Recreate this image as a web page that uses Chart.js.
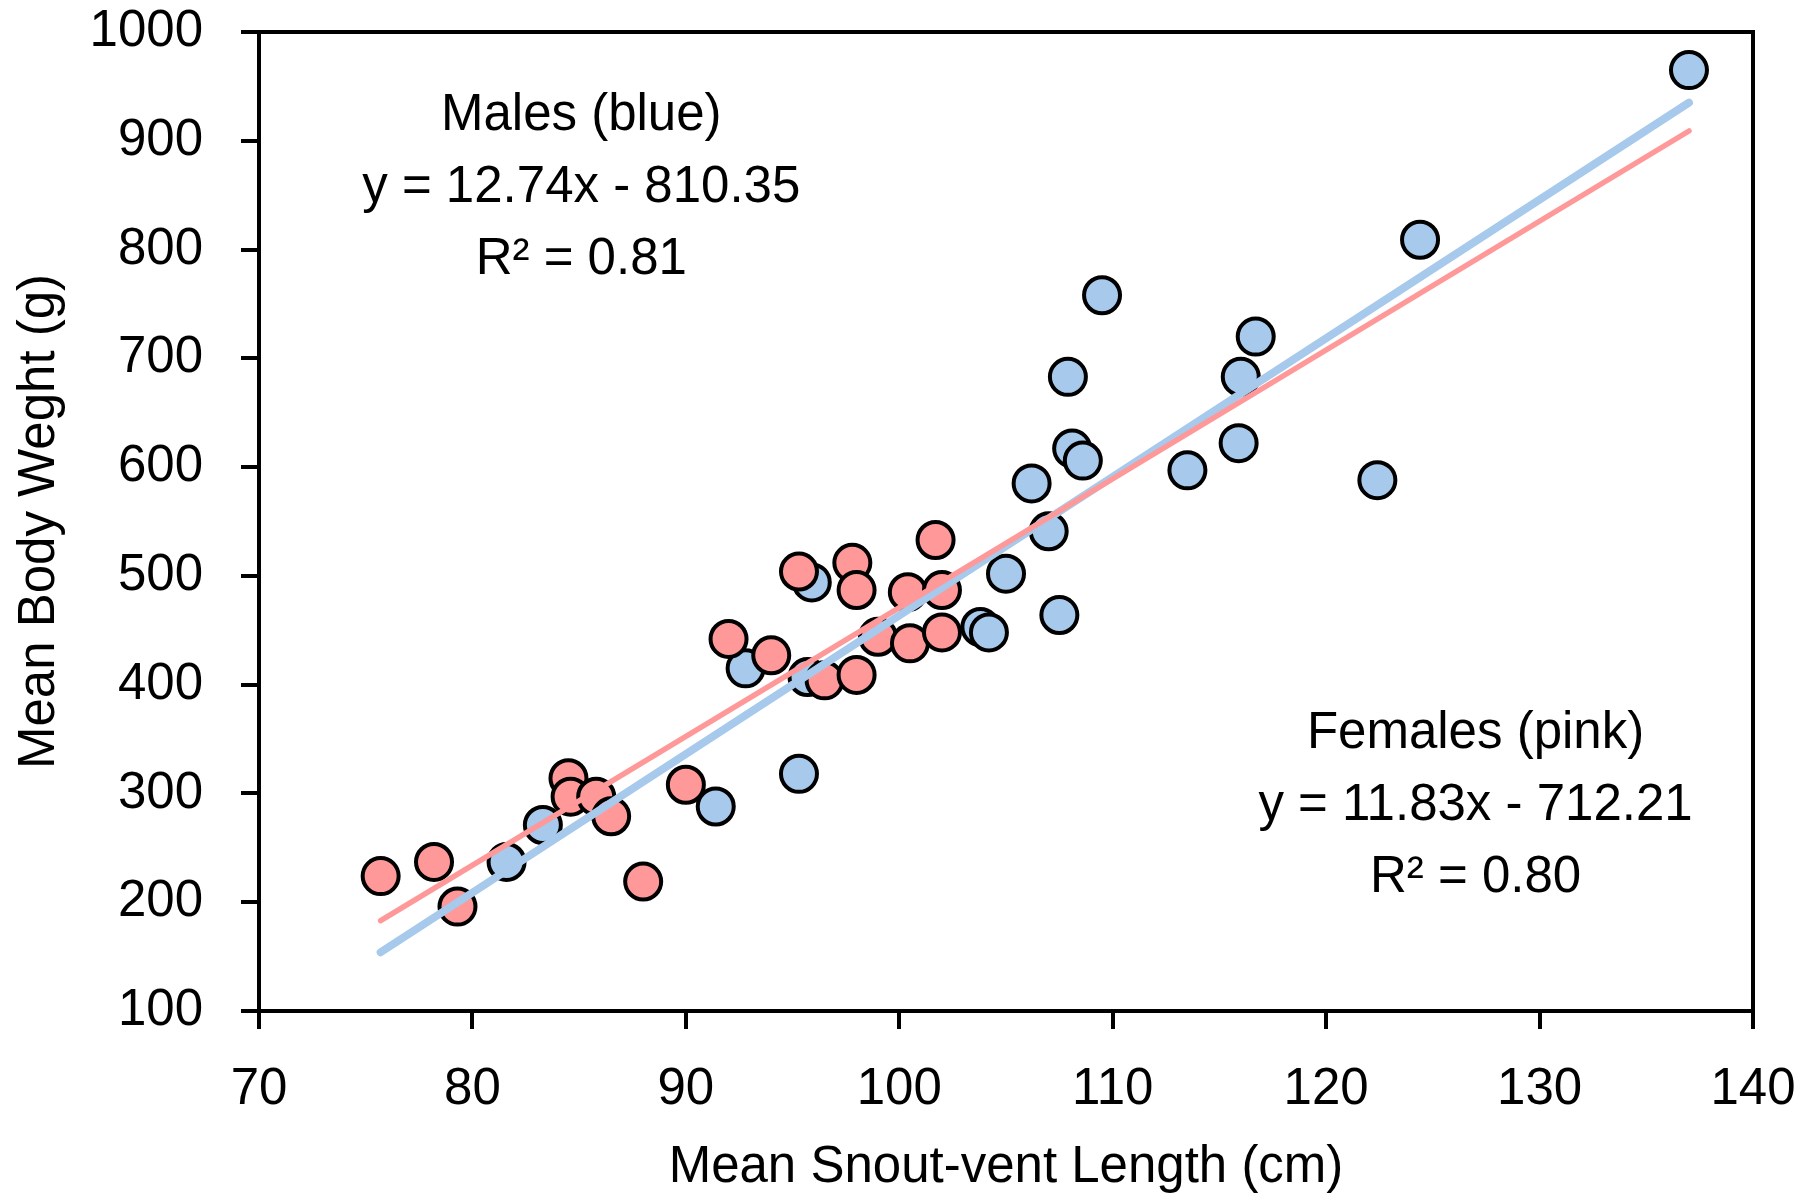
<!DOCTYPE html>
<html lang="en">
<head>
  <meta charset="UTF-8">
  <title>Snout-vent length vs body weight</title>
  <script src="https://cdn.jsdelivr.net/npm/chart.js"></script>
  <style>
    body {
      margin: 0;
      background: #ffffff;
    }
    #chart {
      display: block;
    }
  </style>
</head>
<body>

  <canvas id="chart" width="1803" height="1199"></canvas>

  <script>
    // Males (blue)
    const maleLength = [137.0, 124.4, 109.5, 116.7, 107.9, 116.0, 108.1, 108.6, 115.9, 113.5, 122.4, 106.2,
                        107.0, 105.0, 107.5, 103.8, 104.2, 95.9, 92.8, 95.7, 95.3, 91.4, 83.3, 81.6];
    const maleWeight = [965, 809, 758, 720, 683, 683, 617, 606, 622, 597, 588, 585,
                        541, 502, 464, 453, 448, 494, 415, 407, 318, 288, 271, 237];

    // Females (pink)
    const femaleLength = [75.7, 78.2, 79.3, 84.5, 84.6, 85.8, 86.5, 88.0, 90.0, 92.0, 94.0,
                          95.3, 96.5, 97.8, 98.0, 98.0, 99.0, 100.4, 100.5, 101.7, 102.0, 102.0];
    const femaleWeight = [224, 237, 196, 314, 297, 297, 279, 219, 308, 442, 427,
                          504, 404, 512, 487, 409, 444, 485, 438, 533, 487, 448];

    // trendline end points
    const trendLength = [75.7, 137.0];
    const maleTrend = [154, 935];
    const femaleTrend = [183, 909];

    const xTicks = [70, 80, 90, 100, 110, 120, 130, 140];
    const yTicks = [100, 200, 300, 400, 500, 600, 700, 800, 900, 1000];

    const maleNote = ['Males (blue)', 'y = 12.74x - 810.35', 'R\u00B2 = 0.81'];
    const femaleNote = ['Females (pink)', 'y = 11.83x - 712.21', 'R\u00B2 = 0.80'];

    const BLUE = '#a6c9ec';
    const PINK = '#ff9999';
    const FONT = "'Liberation Sans', Arial, sans-serif";
    const SIZE = 51;

    const pairs = (xs, ys) => xs.map((x, i) => ({ x: x, y: ys[i] }));

    // frame round the plot area
    const boxPlugin = {
      id: 'box',
      beforeDatasetsDraw(chart) {
        const a = chart.chartArea;
        const ctx = chart.ctx;
        ctx.save();
        ctx.strokeStyle = '#000';
        ctx.lineWidth = 4;
        ctx.strokeRect(a.left, a.top, a.right - a.left, a.bottom - a.top);
        ctx.restore();
      }
    };

    // equation text blocks
    const notePlugin = {
      id: 'notes',
      afterDatasetsDraw(chart) {
        const ctx = chart.ctx;
        const xs = chart.scales.x, ys = chart.scales.y;
        const put = (lines, x, y) => {
          const px = xs.getPixelForValue(x);
          const py = ys.getPixelForValue(y);
          lines.forEach((t, i) => ctx.fillText(t, px, py + i * 72));
        };
        ctx.save();
        ctx.font = SIZE + 'px ' + FONT;
        ctx.fillStyle = '#000';
        ctx.textAlign = 'center';
        ctx.textBaseline = 'middle';
        put(maleNote, 85.1, 923);
        put(femaleNote, 127.0, 355);
        ctx.restore();
      }
    };

    new Chart(document.getElementById('chart'), {
      type: 'scatter',
      data: {
        datasets: [
          {
            label: 'Female trend',
            data: pairs(trendLength, femaleTrend),
            showLine: true,
            borderColor: PINK,
            borderWidth: 5.5,
            borderCapStyle: 'round',
            pointRadius: 0,
            order: 0
          },
          {
            label: 'Male trend',
            data: pairs(trendLength, maleTrend),
            showLine: true,
            borderColor: BLUE,
            borderWidth: 8,
            borderCapStyle: 'round',
            pointRadius: 0,
            order: 1
          },
          {
            label: 'Females',
            data: pairs(femaleLength, femaleWeight),
            backgroundColor: PINK,
            borderColor: '#000',
            borderWidth: 4,
            pointRadius: 18,
            pointHoverRadius: 18,
            order: 2
          },
          {
            label: 'Males',
            data: pairs(maleLength, maleWeight),
            backgroundColor: BLUE,
            borderColor: '#000',
            borderWidth: 4,
            pointRadius: 18,
            pointHoverRadius: 18,
            order: 3
          }
        ]
      },
      options: {
        responsive: false,
        animation: false,
        layout: { autoPadding: false, padding: { left: 9, right: 0, top: 0, bottom: 0 } },
        plugins: {
          legend: { display: false },
          tooltip: { enabled: false }
        },
        scales: {
          x: {
            type: 'linear',
            min: xTicks[0],
            max: xTicks[xTicks.length - 1],
            afterBuildTicks: s => { s.ticks = xTicks.map(v => ({ value: v })); },
            afterFit: s => { s.height = 188; s.paddingLeft = 0; s.paddingRight = 50; },
            ticks: { color: '#000', font: { family: FONT, size: SIZE }, padding: 30 },
            grid: { drawOnChartArea: false, tickLength: 18, color: '#000', lineWidth: 4 },
            border: { color: '#000', width: 4 },
            title: {
              display: true,
              text: 'Mean Snout-vent Length (cm)',
              color: '#000',
              font: { family: FONT, size: SIZE },
              padding: { top: 13, bottom: 0 }
            }
          },
          y: {
            type: 'linear',
            min: yTicks[0],
            max: yTicks[yTicks.length - 1],
            afterBuildTicks: s => { s.ticks = yTicks.map(v => ({ value: v })); },
            afterFit: s => { s.width = 250; s.paddingTop = 32; s.paddingBottom = 0; },
            ticks: { color: '#000', font: { family: FONT, size: SIZE }, padding: 38, callback: v => String(v) },
            grid: { drawOnChartArea: false, tickLength: 18, color: '#000', lineWidth: 4 },
            border: { color: '#000', width: 4 },
            title: {
              display: true,
              text: 'Mean Body Weght (g)',
              color: '#000',
              font: { family: FONT, size: SIZE },
              padding: { top: 0, bottom: 0 }
            }
          }
        }
      },
      plugins: [boxPlugin, notePlugin]
    });
  </script>

</body>
</html>
